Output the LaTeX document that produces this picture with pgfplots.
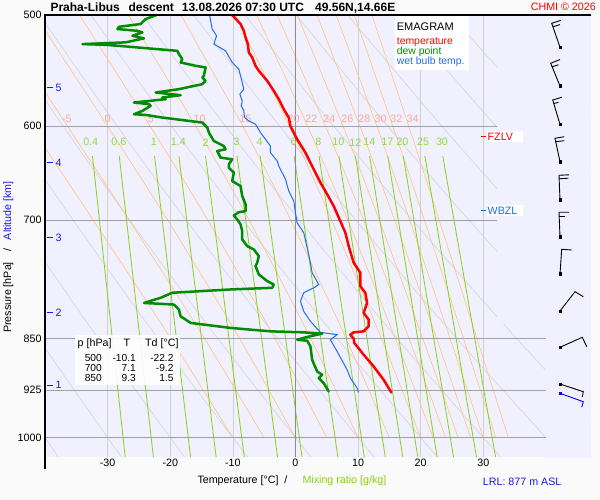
\documentclass[border=0pt]{standalone}
\usepackage{fontspec}
\setmainfont{Liberation Sans}
\usepackage{pgfplots}
\pgfplotsset{compat=1.18}
\definecolor{lav}{RGB}{240,240,254}
\definecolor{outbg}{RGB}{250,250,250}
\definecolor{gvert}{RGB}{208,208,208}
\definecolor{ghor}{RGB}{160,160,160}
\definecolor{gzero}{RGB}{140,140,140}
\definecolor{dryc}{RGB}{212,212,212}
\definecolor{moistc}{RGB}{255,196,125}
\definecolor{mixc}{RGB}{140,208,20}
\definecolor{moistlab}{RGB}{255,168,150}
\definecolor{mixlab}{RGB}{150,215,60}
\definecolor{tred}{RGB}{255,0,0}
\definecolor{tgreen}{RGB}{0,140,0}
\definecolor{twet}{RGB}{30,110,240}
\definecolor{lblue}{RGB}{25,25,235}
\newcommand{\fs}{\fontsize{10.7}{12}\selectfont}
\begin{document}
\begin{tikzpicture}[x=1pt,y=1pt]
\fill[outbg] (0,0) rectangle (600,500);
\useasboundingbox (0,0) rectangle (600,500);
\begin{axis}[
  at={(45pt,43pt)}, anchor=south west, scale only axis,
  width=546pt, height=442pt,
  xmin=-40, xmax=47.2, ymin=500, ymax=1032,
  ymode=log, y dir=reverse,
  axis line style={draw=none},
  axis background/.style={fill=lav},
  xtick={-30,-20,-10,0,10,20,30},
  xticklabels={-30,-20,-10,0,10,20,30},
  ytick={500,600,700,850,925,1000},
  yticklabels={500,600,700,850,925,1000},
  minor ytick={}, 
  major tick length=0pt, minor tick length=0pt,
  xmajorgrids, grid style={gvert, line width=0.6pt},
  ticklabel style={font=\fs},
  xticklabel style={yshift=1.5pt},
  clip=true,
]
% dry adiabats
\addplot[dryc, line width=0.6pt, smooth] coordinates {(-81.89,500) (-71.66,600) (-62.59,700) (-50.58,850) (-37.89,1032)};
\addplot[dryc, line width=0.6pt, smooth] coordinates {(-73.68,500) (-63.02,600) (-53.56,700) (-41.03,850) (-27.80,1032)};
\addplot[dryc, line width=0.6pt, smooth] coordinates {(-65.48,500) (-54.38,600) (-44.53,700) (-31.48,850) (-17.71,1032)};
\addplot[dryc, line width=0.6pt, smooth] coordinates {(-57.28,500) (-45.73,600) (-35.49,700) (-21.94,850) (-7.62,1032)};
\addplot[dryc, line width=0.6pt, smooth] coordinates {(-49.07,500) (-37.09,600) (-26.46,700) (-12.39,850) (2.47,1032)};
\addplot[dryc, line width=0.6pt, smooth] coordinates {(-40.87,500) (-28.45,600) (-17.43,700) (-2.84,850) (12.56,1032)};
\addplot[dryc, line width=0.6pt, smooth] coordinates {(-32.67,500) (-19.81,600) (-8.40,700) (6.70,850) (22.65,1032)};
\addplot[dryc, line width=0.6pt, smooth] coordinates {(-24.46,500) (-11.17,600) (0.63,700) (16.25,850) (32.74,1032)};
\addplot[dryc, line width=0.6pt, smooth] coordinates {(-16.26,500) (-2.52,600) (9.66,700) (25.79,850) (42.83,1032)};
\addplot[dryc, line width=0.6pt, smooth] coordinates {(-8.05,500) (6.12,600) (18.69,700) (35.34,850) (52.92,1032)};
\addplot[dryc, line width=0.6pt, smooth] coordinates {(0.15,500) (14.76,600) (27.72,700) (44.88,850)};
\addplot[dryc, line width=0.6pt, smooth] coordinates {(8.35,500) (23.40,600) (36.75,700) (54.43,850)};
\addplot[dryc, line width=0.6pt, smooth] coordinates {(16.55,500) (32.04,600) (45.78,700)};
\addplot[dryc, line width=0.6pt, smooth] coordinates {(24.76,500) (40.69,600) (54.82,700)};
\addplot[dryc, line width=0.6pt, smooth] coordinates {(32.96,500) (49.33,600)};
% moist adiabats
\addplot[moistc, line width=0.6pt, smooth] coordinates {(-10,1000) (-19.9,850) (-32.3,700) (-42.25,600) (-53.7,500)};
\addplot[moistc, line width=0.6pt, smooth] coordinates {(-5,1000) (-14.5,850) (-26.55,700) (-36.4,600) (-48.0,500)};
\addplot[moistc, line width=0.6pt, smooth] coordinates {(0,1000) (-8.9,850) (-20.4,700) (-30.0,600) (-41.6,500)};
\addplot[moistc, line width=0.6pt, smooth] coordinates {(5,1000) (-3.25,850) (-14.0,700) (-23.2,600) (-34.5,500)};
\addplot[moistc, line width=0.6pt, smooth] coordinates {(10,1000) (2.45,850) (-7.4,700) (-15.9,600) (-26.7,500)};
\addplot[moistc, line width=0.6pt, smooth] coordinates {(15,1000) (8.1,850) (-0.75,700) (-8.4,600) (-18.3,500)};
\addplot[moistc, line width=0.6pt, smooth] coordinates {(20,1000) (13.75,850) (5.8,700) (-0.95,600) (-9.6,500)};
\addplot[moistc, line width=0.6pt, smooth] coordinates {(22,1000) (15.95,850) (8.35,700) (1.95,600) (-6.2,500)};
\addplot[moistc, line width=0.6pt, smooth] coordinates {(24,1000) (18.15,850) (10.9,700) (4.8,600) (-2.9,500)};
\addplot[moistc, line width=0.6pt, smooth] coordinates {(26,1000) (20.35,850) (13.4,700) (7.6,600) (0.3,500)};
\addplot[moistc, line width=0.6pt, smooth] coordinates {(28,1000) (22.55,850) (15.85,700) (10.3,600) (3.45,500)};
\addplot[moistc, line width=0.6pt, smooth] coordinates {(30,1000) (24.7,850) (18.25,700) (13.0,600) (6.5,500)};
\addplot[moistc, line width=0.6pt, smooth] coordinates {(32,1000) (26.85,850) (20.6,700) (15.55,600) (9.4,500)};
\addplot[moistc, line width=0.6pt, smooth] coordinates {(34,1000) (29.0,850) (22.95,700) (18.1,600) (12.2,500)};
% mixing ratio lines
\addplot[mixc, line width=0.8pt] coordinates {(-32.42,630) (-27.19,1032)};
\addplot[mixc, line width=0.8pt] coordinates {(-28.14,630) (-22.69,1032)};
\addplot[mixc, line width=0.8pt] coordinates {(-22.50,630) (-16.75,1032)};
\addplot[mixc, line width=0.8pt] coordinates {(-18.62,630) (-12.67,1032)};
\addplot[mixc, line width=0.8pt] coordinates {(-14.36,630) (-8.18,1032)};
\addplot[mixc, line width=0.8pt] coordinates {(-9.33,630) (-2.86,1032)};
\addplot[mixc, line width=0.8pt] coordinates {(-5.62,630) (1.05,1032)};
\addplot[mixc, line width=0.8pt] coordinates {(-0.21,630) (6.77,1032)};
\addplot[mixc, line width=0.8pt] coordinates {(3.77,630) (10.99,1032)};
\addplot[mixc, line width=0.8pt] coordinates {(6.93,630) (14.34,1032)};
\addplot[mixc, line width=0.8pt] coordinates {(9.57,630) (17.14,1032)};
\addplot[mixc, line width=0.8pt] coordinates {(11.84,630) (19.54,1032)};
\addplot[mixc, line width=0.8pt] coordinates {(14.74,630) (22.63,1032)};
\addplot[mixc, line width=0.8pt] coordinates {(17.21,630) (25.25,1032)};
\addplot[mixc, line width=0.8pt] coordinates {(20.66,630) (28.91,1032)};
\addplot[mixc, line width=0.8pt] coordinates {(23.52,630) (31.96,1032)};
% empty band on the right
\fill[lav] (axis cs:32.2,495) -- (axis cs:48,495) -- (axis cs:48,1040) -- (axis cs:40,1040) -- (axis cs:40,830) -- (axis cs:32.2,830) -- cycle;
% pressure lines
\addplot[ghor, line width=0.8pt] coordinates {(-40,600) (32.2,600)};
\addplot[ghor, line width=0.8pt] coordinates {(-40,700) (32.2,700)};
\addplot[ghor, line width=0.8pt] coordinates {(-40,850) (40,850)};
\addplot[ghor, line width=0.8pt] coordinates {(-40,925) (40,925)};
\addplot[ghor, line width=0.8pt] coordinates {(-40,1000) (40,1000)};
\addplot[gzero, line width=0.8pt] coordinates {(0,500) (0,1032)};
% labels of moist adiabats
\node[text=moistlab, font=\fs] at (axis cs:-36.5,593) {-5};
\node[text=moistlab, font=\fs] at (axis cs:-30,593) {0};
\node[text=moistlab, font=\fs] at (axis cs:-23.1,593) {5};
\node[text=moistlab, font=\fs] at (axis cs:-15.3,593) {10};
\node[text=moistlab, font=\fs] at (axis cs:-8.0,593) {15};
\node[text=moistlab, font=\fs] at (axis cs:-0.3,593) {20};
\node[text=moistlab, font=\fs] at (axis cs:2.55,593) {22};
\node[text=moistlab, font=\fs] at (axis cs:5.4,593) {24};
\node[text=moistlab, font=\fs] at (axis cs:8.3,593) {26};
\node[text=moistlab, font=\fs] at (axis cs:11.0,593) {28};
\node[text=moistlab, font=\fs] at (axis cs:13.6,593) {30};
\node[text=moistlab, font=\fs] at (axis cs:16.1,593) {32};
\node[text=moistlab, font=\fs] at (axis cs:18.7,593) {34};
% labels of mixing ratio
\node[text=mixlab, font=\fs] at (axis cs:-32.7,616) {0.4};
\node[text=mixlab, font=\fs] at (axis cs:-28.2,616) {0.6};
\node[text=mixlab, font=\fs] at (axis cs:-22.6,616) {1};
\node[text=mixlab, font=\fs] at (axis cs:-18.7,616) {1.4};
\node[text=mixlab, font=\fs] at (axis cs:-14.35,616) {2};
\node[text=mixlab, font=\fs] at (axis cs:-9.4,616) {3};
\node[text=mixlab, font=\fs] at (axis cs:-5.74,616) {4};
\node[text=mixlab, font=\fs] at (axis cs:-0.3,616) {6};
\node[text=mixlab, font=\fs] at (axis cs:3.67,616) {8};
\node[text=mixlab, font=\fs] at (axis cs:6.86,616) {10};
\node[text=mixlab, font=\fs] at (axis cs:9.57,616) {12};
\node[text=mixlab, font=\fs] at (axis cs:11.8,616) {14};
\node[text=mixlab, font=\fs] at (axis cs:14.67,616) {17};
\node[text=mixlab, font=\fs] at (axis cs:17.07,616) {20};
\node[text=mixlab, font=\fs] at (axis cs:20.4,616) {25};
\node[text=mixlab, font=\fs] at (axis cs:23.4,616) {30};
% wet bulb temperature
\addplot[twet, line width=1pt] coordinates {(-13.72,500) (-13.29,511.6) (-12.6,517.3) (-13.03,524.4) (-11.16,530.2) (-10.1,540.4) (-9.04,546.4) (-8.5,558.5) (-8.25,564.6) (-8.88,569.3) (-8.5,575.6) (-8.66,580.3) (-8.25,585.1) (-8.13,591.5) (-7.45,594.8) (-6.38,598) (-5.58,606.3) (-3.99,619.8) (-3.99,626.5) (-2.92,635.2) (-2.66,640.5) (-1.59,654.6) (-1.07,667.3) (-0.27,678.3) (0,691.4) (0.27,702.8) (1.32,714.5) (1.87,732.3) (2.39,750.6) (2.66,763) (3.72,777.8) (2.92,782) (1.32,788.5) (0.8,799.5) (1.32,812.7) (2.39,826.1) (3.99,841.2) (6.65,844.4) (5.58,851.4) (6.65,867.9) (8.25,894.4) (8.77,906.6) (9.84,921.6) (10.05,928.3)};
% dew point
\addplot[tgreen, line width=2.5pt, line join=round, line cap=round] coordinates {(-22.2,500) (-23.92,503.3) (-24.72,507.4) (-28.18,509.7) (-28.44,511.6) (-25.25,513.1) (-24.45,514.4) (-26.04,517.3) (-24.19,519.5) (-27.11,522.9) (-34.02,524.4) (-30.3,525) (-27.11,526.4) (-18.87,530.2) (-18.61,533.1) (-18.07,537.5) (-18.34,540.4) (-15.95,543.4) (-14.35,544.9) (-14.63,552.4) (-14.88,553.9) (-14.35,557) (-14.88,560) (-18.61,564.6) (-22.33,567.7) (-18.34,570.2) (-21.26,572.4) (-20.73,574) (-25.79,577.1) (-23.4,578.7) (-23.13,580.3) (-24.45,585.1) (-25.79,588.3) (-23.92,589) (-21.26,591.5) (-14.88,596.4) (-14.08,601.3) (-13.83,606.3) (-13.03,614.7) (-11.44,619.8) (-11.16,623.1) (-12.49,624.9) (-11.96,631.7) (-10.1,633.4) (-10.64,638.6) (-10.64,642.2) (-9.84,647.4) (-10.1,656.4) (-8.77,661.8) (-8.5,672.8) (-7.97,682) (-7.97,689.6) (-9.04,690.8) (-9.84,694.5) (-9.2,700) (-8.77,704.8) (-8.5,712.6) (-8.5,722.4) (-7.7,730.4) (-6.65,734.3) (-5.85,742.4) (-6.11,750.6) (-6.38,754.7) (-5.85,765.1) (-4.51,773.5) (-3.46,777.8) (-3.72,782) (-10.37,784.2) (-19.67,788.5) (-21.53,795) (-24.19,801.6) (-19.41,803.7) (-18.61,810.4) (-18.34,819.4) (-16.75,828.3) (-10.37,835.1) (-3.99,839.8) (1.32,841.2) (4.26,842.9) (1.87,847.6) (0.27,851.4) (1.87,852.8) (2.39,860.8) (2.66,879.8) (3.46,896.9) (4.26,901.8) (3.72,906.6) (4.51,914.1) (5.31,926.8)};
% temperature
\addplot[tred, line width=2.5pt, line join=round, line cap=round] coordinates {(-10.1,500) (-8.77,507.4) (-8.25,513.1) (-7.97,518.7) (-7.61,524.4) (-7.45,531.6) (-6.91,536) (-6.38,543.4) (-5.85,547.9) (-4.51,557) (-3.46,566.2) (-2.66,574) (-1.87,583.5) (-1.07,591.5) (-0.8,600) (0.27,613) (1.59,626.5) (2.66,640.5) (3.99,658.2) (4.78,667.3) (6.11,683.9) (7.1,700) (7.97,714.5) (8.5,730.4) (9.3,750.6) (10.37,763) (10.37,780) (11.16,788.5) (11.44,801.6) (10.89,814.8) (11.69,823.8) (11.69,832.9) (10.89,839.8) (9.3,841.2) (8.77,844.4) (9.3,850) (9.4,856) (10.89,872.6) (12.49,889.6) (14.08,909.2) (15.31,928.3)};
\end{axis}
% overlay in pixel units (y from the top)
\begin{axis}[at={(0pt,0pt)}, anchor=south west, scale only axis,
  width=600pt, height=500pt, xmin=0, xmax=600, ymin=0, ymax=500,
  y dir=reverse, hide axis, clip=false]
\draw[black, line width=1.2pt] (axis cs:44.4,15) -- (axis cs:591,15);
\draw[black, line width=1.2pt] (axis cs:45,14.4) -- (axis cs:45,469);
% title
\node[anchor=base west, inner sep=0pt, font=\bfseries\fontsize{12}{14}\selectfont] at (axis cs:50.3,11.7) {Praha-Libus};
\node[anchor=base west, inner sep=0pt, font=\bfseries\fontsize{12}{14}\selectfont] at (axis cs:128.3,11.7) {descent};
\node[anchor=base west, inner sep=0pt, font=\bfseries\fontsize{12}{14}\selectfont] at (axis cs:181.7,11.7) {13.08.2026 07:30 UTC};
\node[anchor=base west, inner sep=0pt, font=\bfseries\fontsize{12}{14}\selectfont] at (axis cs:315,11.7) {49.56N,14.66E};
\node[anchor=base east, inner sep=0pt, text=tred, font=\fs] at (axis cs:596,10.8) {CHMI © 2026};
% legend box
\fill[white] (axis cs:395,16) rectangle (axis cs:469,70);
\node[anchor=base west, inner sep=0pt, font=\fontsize{11}{12}\selectfont] at (axis cs:396.7,30.2) {EMAGRAM};
\node[anchor=base west, inner sep=0pt, text=tred, font=\fontsize{10.4}{12}\selectfont] at (axis cs:396.7,44.3) {temperature};
\node[anchor=base west, inner sep=0pt, text=tgreen, font=\fontsize{10.4}{12}\selectfont] at (axis cs:396.7,54.3) {dew point};
\node[anchor=base west, inner sep=0pt, text=twet, font=\fontsize{10.4}{12}\selectfont] at (axis cs:396.7,64.3) {wet bulb temp.};
% table box
\fill[white, opacity=0.9] (axis cs:75,335) rectangle (axis cs:180,385);
\node[anchor=base west, inner sep=0pt, font=\fs] at (axis cs:77.5,346.7) {p [hPa]};
\node[anchor=base, inner sep=0pt, font=\fs] at (axis cs:127,346.7) {T};
\node[anchor=base west, inner sep=0pt, font=\fs] at (axis cs:145,346.7) {Td [°C]};
\node[anchor=base east, inner sep=0pt, font=\fontsize{10.2}{12}\selectfont] at (axis cs:102,361.7) {500};
\node[anchor=base east, inner sep=0pt, font=\fontsize{10.2}{12}\selectfont] at (axis cs:136,361.7) {-10.1};
\node[anchor=base east, inner sep=0pt, font=\fontsize{10.2}{12}\selectfont] at (axis cs:173.7,361.7) {-22.2};
\node[anchor=base east, inner sep=0pt, font=\fontsize{10.2}{12}\selectfont] at (axis cs:102,371.7) {700};
\node[anchor=base east, inner sep=0pt, font=\fontsize{10.2}{12}\selectfont] at (axis cs:136,371.7) {7.1};
\node[anchor=base east, inner sep=0pt, font=\fontsize{10.2}{12}\selectfont] at (axis cs:173.7,371.7) {-9.2};
\node[anchor=base east, inner sep=0pt, font=\fontsize{10.2}{12}\selectfont] at (axis cs:102,381.7) {850};
\node[anchor=base east, inner sep=0pt, font=\fontsize{10.2}{12}\selectfont] at (axis cs:136,381.7) {9.3};
\node[anchor=base east, inner sep=0pt, font=\fontsize{10.2}{12}\selectfont] at (axis cs:173.7,381.7) {1.5};
% FZLV / WBZL
\fill[white] (axis cs:487.3,131) rectangle (axis cs:522.7,141.7);
\draw[tred, line width=0.9pt] (axis cs:480.7,136.3) -- (axis cs:486.3,136.3);
\node[anchor=base west, inner sep=0pt, text=tred, font=\fs] at (axis cs:487.5,141) {FZLV};
\fill[white] (axis cs:487.3,205) rectangle (axis cs:522.7,215.7);
\draw[twet, line width=0.9pt] (axis cs:480.7,210.3) -- (axis cs:486.3,210.3);
\node[anchor=base west, inner sep=0pt, text=twet, font=\fs] at (axis cs:487.5,215) {WBZL};
% altitude ticks
\draw[lblue, line width=0.9pt] (axis cs:47,87.3) -- (axis cs:53,87.3);
\node[anchor=base west, inner sep=0pt, text=lblue, font=\fs] at (axis cs:55.5,91.1) {5};
\draw[lblue, line width=0.9pt] (axis cs:47,162.7) -- (axis cs:53,162.7);
\node[anchor=base west, inner sep=0pt, text=lblue, font=\fs] at (axis cs:55.5,166.5) {4};
\draw[lblue, line width=0.9pt] (axis cs:47,237.7) -- (axis cs:53,237.7);
\node[anchor=base west, inner sep=0pt, text=lblue, font=\fs] at (axis cs:55.5,241.5) {3};
\draw[lblue, line width=0.9pt] (axis cs:47,312.3) -- (axis cs:53,312.3);
\node[anchor=base west, inner sep=0pt, text=lblue, font=\fs] at (axis cs:55.5,316.1) {2};
\draw[lblue, line width=0.9pt] (axis cs:47,385) -- (axis cs:53,385);
\node[anchor=base west, inner sep=0pt, text=lblue, font=\fs] at (axis cs:55.5,388.8) {1};
% axis titles
\node[anchor=base west, inner sep=0pt, rotate=90, font=\fs] at (axis cs:11,333) {Pressure [hPa]\hspace{11pt}/\hspace{8pt}\textcolor{lblue}{Altitude [km]}};
\node[anchor=base west, inner sep=0pt, font=\fs] at (axis cs:197.3,483) {Temperature [°C]\hspace{6pt}/};
\node[anchor=base west, inner sep=0pt, text=mixc, font=\fs] at (axis cs:302.3,483) {Mixing ratio [g/kg]};
\node[anchor=base west, inner sep=0pt, text=lblue, font=\fs] at (axis cs:482.7,485) {LRL: 877 m ASL};
% wind barbs
\addplot[black, line width=0.9pt] coordinates {(560,47.3) (551.7,23.3) (561,20.3)};
\addplot[black, line width=0.9pt] coordinates {(552.7,26.8) (560,24.6)};
\addplot[black, line width=0.9pt] coordinates {(560,86) (550.7,63.3) (560,59.5)};
\addplot[black, line width=0.9pt] coordinates {(551.8,66.8) (558.5,64.8)};
\addplot[black, line width=0.9pt] coordinates {(560,124.3) (552.7,100) (561.7,97.3)};
\addplot[black, line width=0.9pt] coordinates {(553.7,103.5) (558.5,102.3)};
\addplot[black, line width=0.9pt] coordinates {(560,161.7) (555,138.3) (564.3,136.7)};
\addplot[black, line width=0.9pt] coordinates {(555.7,141.7) (564.3,140.7)};
\addplot[black, line width=0.9pt] coordinates {(560,200) (559,175.3) (569,174.8)};
\addplot[black, line width=0.9pt] coordinates {(559.1,178.8) (568.3,178.2)};
\addplot[black, line width=0.9pt] coordinates {(560,236.7) (559,212.3) (569,212.3)};
\addplot[black, line width=0.9pt] coordinates {(559.1,216) (565,216)};
\addplot[black, line width=0.9pt] coordinates {(560,274) (561.7,249.3) (571.7,250)};
\addplot[black, line width=0.9pt] coordinates {(560,311) (575,291.7) (583.3,296.7)};
\addplot[black, line width=0.9pt] coordinates {(560,347.3) (582.3,337.3) (586.7,346.7)};
\addplot[black, line width=0.9pt] coordinates {(560,384) (583.3,391.7) (582.3,397)};
\addplot[blue, line width=0.9pt] coordinates {(560,393.3) (583.3,401.7) (581.7,407.3)};
\addplot[only marks, mark=square*, mark size=1.3pt, black] coordinates {(560,47.3) (560,86) (560,124.3) (560,161.7) (560,200) (560,236.7) (560,274) (560,311) (560,347.3) (560,384)};
\addplot[only marks, mark=square*, mark size=1.3pt, blue] coordinates {(560,393.3)};
\end{axis}
\end{tikzpicture}
\end{document}
